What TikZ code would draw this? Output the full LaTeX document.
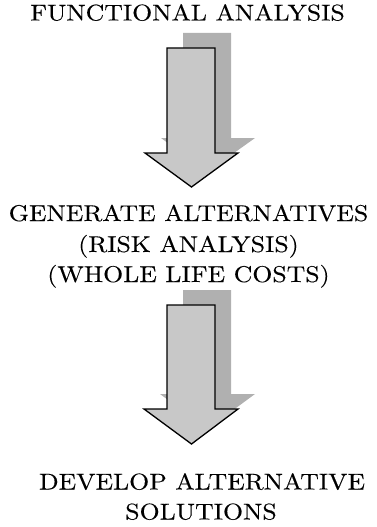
\documentclass[tikz,border=0pt]{standalone}
\usepackage{fontspec}
\setmainfont{lmroman10-regular.otf}[FakeStretch=1.13, FakeBold=0.2]
\definecolor{frontgray}{RGB}{200,200,200}
\definecolor{shadowgray}{RGB}{176,176,176}
\tikzset{
  lbl/.style={anchor=base, inner sep=0pt, font=\fontsize{22.8}{30}\selectfont},
  frontarrow/.style={fill=frontgray, draw=black, line width=1.3pt, line join=miter},
  shadowarrow/.style={fill=shadowgray, draw=none}
}
\begin{document}
\begin{tikzpicture}[x=1pt, y=-1pt]
\useasboundingbox (0,0) rectangle (377,527);
% arrow 1 shadow
\fill[shadowarrow] (183,33) -- (231,33) -- (231,138) -- (255,138) -- (207.5,172) -- (161,138) -- (183,138) -- cycle;
% arrow 1 front
\draw[frontarrow] (167,48) -- (215,48) -- (215,153) -- (238,153) -- (191.5,187) -- (145,153) -- (167,153) -- cycle;
% arrow 2 shadow
\fill[shadowarrow] (183,290) -- (231,290) -- (231,394) -- (255,394) -- (207.5,429) -- (160,394) -- (183,394) -- cycle;
% arrow 2 front
\draw[frontarrow] (167,305) -- (215,305) -- (215,409) -- (238,409) -- (191.5,444) -- (144,409) -- (167,409) -- cycle;
% texts
\node[lbl] (t1) at (187.5,20.5) {FUNCTIONAL ANALYSIS};
\node[lbl] (t2a) at (188.5,221) {GENERATE ALTERNATIVES};
\node[lbl] (t2b) at (188.5,252) {(RISK ANALYSIS)};
\node[lbl] (t2c) at (188.5,282) {(WHOLE LIFE COSTS)};
\node[lbl] (t3a) at (202,489.5) {DEVELOP ALTERNATIVE};
\node[lbl] (t3b) at (201,519.5) {SOLUTIONS};
\end{tikzpicture}
\end{document}
